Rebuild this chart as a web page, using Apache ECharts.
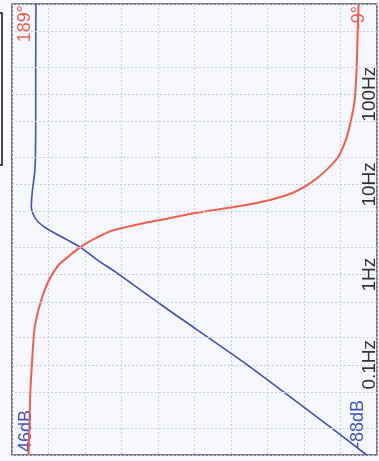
<!DOCTYPE html>
<html>
<head>
<meta charset="utf-8">
<script src="https://cdn.jsdelivr.net/npm/echarts@6/dist/echarts.min.js"></script>
<style>
  html, body { margin: 0; padding: 0; background: #f8f9fc; }
  #chart { width: 379px; height: 461px; }
</style>
</head>
<body>
<div id="chart"></div>
<script>
// Axis ranges
const freqMin = 0.01, freqMax = 1000;       // Hz, log scale
const dbMin = -88, dbMax = 46;              // magnitude range
const phaseMin = -9, phaseMax = 189;        // phase range, degrees
const divisions = 10;                       // level grid divisions

// Frequency tick labels and 2/5 grid lines
const freqTicks = [0.1, 1, 10, 100];
const freqTickLabels = ['0.1Hz', '1Hz', '10Hz', '100Hz'];
const freqMinorLines = [0.02, 0.05, 0.2, 0.5, 2, 5, 20, 50, 200, 500];

// Magnitude response
const magFreq = [1000, 200, 50, 20, 14.4, 11.2, 8.67, 6.7, 5.61, 4.58, 3.83, 3.12, 2.02, 1.45, 1.04, 0.405, 0.107, 0.0189, 0.01];
const magDb   = [37.2, 37.3, 37.3, 37.4, 37.6, 38.0, 38.5, 38.8, 38.9, 38.1, 36.4, 32.4, 21.0, 14.6, 7.4, -11.5, -39.0, -72.3, -84.2];

// Phase response
const phaseFreq = [0.01, 0.0244, 0.0526, 0.128, 0.243, 0.357, 0.565, 0.871, 1.28, 1.49, 2.02, 2.61, 3.12, 3.83, 4.24, 4.82, 5.20, 5.62, 6.06, 6.71, 8.03, 10.6, 14.4, 20.1, 31.1, 49.2, 86.3, 185, 399, 975];
const phaseDeg  = [180.0, 179.5, 179.0, 177.9, 176.9, 175.3, 172.6, 168.9, 163.7, 160.0, 152.0, 142.5, 133.6, 114.6, 102.9, 89.7, 79.2, 68.6, 59.1, 49.1, 36.9, 26.4, 18.5, 12.1, 7.9, 5.3, 3.1, 2.1, 1.6, 1.0];

const gridColor = '#c6cee6';
const magColor = '#3f52b4';
const phaseColor = '#ef5f4f';
const labelFont = '"Liberation Sans", Arial, sans-serif';

const gridBox = { left: 12, top: 4, right: -8, bottom: 6 };

const chart = echarts.init(document.getElementById('chart'));

function tickLabel(v) {
  for (let i = 0; i < freqTicks.length; i++) {
    if (Math.abs(Math.log10(v) - Math.log10(freqTicks[i])) < 1e-6) return freqTickLabels[i];
  }
  return '';
}

chart.setOption({
  animation: false,
  backgroundColor: '#f8f9fc',
  grid: Object.assign({
    show: true,
    backgroundColor: '#f5f7fc',
    borderColor: '#555',
    borderWidth: 1.5,
    containLabel: false
  }, gridBox),
  xAxis: [
    { type: 'value', min: dbMin, max: dbMax, inverse: true, show: false },
    { type: 'value', min: phaseMin, max: phaseMax, inverse: true, show: false },
    {
      type: 'value', min: 0, max: divisions, interval: 1,
      axisLine: { show: false }, axisTick: { show: false }, axisLabel: { show: false },
      splitLine: { show: true, lineStyle: { color: gridColor, type: [2, 2], width: 1 } }
    }
  ],
  yAxis: [{
    type: 'log', logBase: 10, min: freqMin, max: freqMax, position: 'right',
    axisLine: { show: false }, axisTick: { show: false },
    splitLine: { show: true, lineStyle: { color: gridColor, type: [2, 2], width: 1 } },
    axisLabel: {
      inside: true, rotate: 90, margin: -2,
      color: '#333', fontSize: 19, fontFamily: labelFont,
      formatter: tickLabel
    }
  }],
  series: [
    {
      name: 'Magnitude', type: 'line', xAxisIndex: 0, yAxisIndex: 0,
      data: magFreq.map((f, i) => [magDb[i], f]),
      showSymbol: false, smooth: 0.2,
      lineStyle: { color: magColor, width: 1.6 },
      markLine: {
        silent: true, symbol: 'none', label: { show: false },
        lineStyle: { color: gridColor, type: [2, 2], width: 1 },
        data: freqMinorLines.map(f => ({ yAxis: f }))
      }
    },
    {
      name: 'Phase', type: 'line', xAxisIndex: 1, yAxisIndex: 0,
      data: phaseFreq.map((f, i) => [phaseDeg[i], f]),
      showSymbol: false, smooth: 0.3,
      lineStyle: { color: phaseColor, width: 2 }
    }
  ],
  graphic: [
    // frame to the left of the plot
    { type: 'rect', shape: { x: -10, y: 13, width: 12, height: 152 },
      style: { fill: 'none', stroke: '#111', lineWidth: 1.5 } },
    // range labels
    { type: 'text', x: 25, y: 5, rotation: Math.PI / 2,
      style: { text: phaseMax + '°', fill: phaseColor, font: '18px ' + labelFont, textAlign: 'right', textVerticalAlign: 'middle' } },
    { type: 'text', x: 359, y: 6, rotation: Math.PI / 2,
      style: { text: phaseMin + '°', fill: phaseColor, font: '18px ' + labelFont, textAlign: 'right', textVerticalAlign: 'middle' } },
    { type: 'text', x: 26, y: 452, rotation: Math.PI / 2,
      style: { text: dbMax + 'dB', fill: magColor, font: '18px ' + labelFont, textAlign: 'left', textVerticalAlign: 'middle' } },
    { type: 'text', x: 358, y: 448, rotation: Math.PI / 2,
      style: { text: dbMin + 'dB', fill: magColor, font: '18px ' + labelFont, textAlign: 'left', textVerticalAlign: 'middle' } }
  ]
});
</script>
</body>
</html>
